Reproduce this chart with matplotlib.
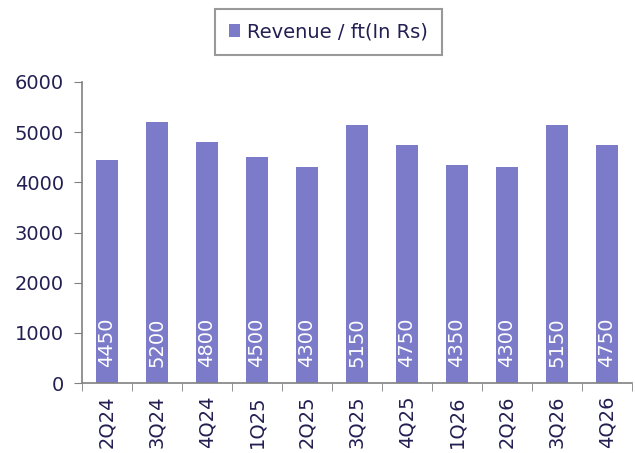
import matplotlib
matplotlib.use("Agg")
import matplotlib.pyplot as plt
import numpy as np

categories = ["2Q24", "3Q24", "4Q24", "1Q25", "2Q25", "3Q25", "4Q25", "1Q26", "2Q26", "3Q26", "4Q26"]
revenue = [4450, 5200, 4800, 4500, 4300, 5150, 4750, 4350, 4300, 5150, 4750]
series_name = "Revenue / ft(In Rs)"

bar_color = "#7b7bc9"
text_color = "#231f52"
spine_color = "#808080"

plt.rcParams["font.family"] = ["DejaVu Sans"]

fig = plt.figure(figsize=(6.35, 4.53), dpi=100)
ax = fig.add_axes([0.129, 0.1545, 0.866, 0.6645])

x = np.arange(len(categories))
bars = ax.bar(x, revenue, width=0.43, color=bar_color, label=series_name, zorder=2)

for xi, v in zip(x, revenue):
    ax.text(xi, 320, f"{v}", rotation=90, ha="center", va="bottom",
            color="white", fontsize=14)

ax.set_xlim(-0.5, len(categories) - 0.5)
ax.set_ylim(0, 6000)
ax.set_yticks(np.arange(0, 6001, 1000))
ax.tick_params(axis="y", direction="out", length=6, color=spine_color, labelsize=14, labelcolor=text_color, pad=7)

ax.set_xticks(x)
ax.set_xticklabels(categories, rotation=90, fontsize=14, color=text_color)
ax.tick_params(axis="x", which="major", length=0, pad=9)
ax.set_xticks(np.arange(-0.5, len(categories), 1.0), minor=True)
ax.tick_params(axis="x", which="minor", direction="out", length=6, color=spine_color)

for s in ["top", "right"]:
    ax.spines[s].set_visible(False)
for s in ["left", "bottom"]:
    ax.spines[s].set_color(spine_color)
    ax.spines[s].set_linewidth(1.2)

leg = fig.legend(loc="center", bbox_to_anchor=(0.517, 0.93), fontsize=14, frameon=True,
                 fancybox=False, handlelength=0.6, handleheight=0.6, handletextpad=0.35,
                 borderpad=0.7, labelcolor=text_color, borderaxespad=0)
leg.get_frame().set_edgecolor(spine_color)
leg.get_frame().set_linewidth(1.5)

fig.savefig("out.png", dpi=100)
